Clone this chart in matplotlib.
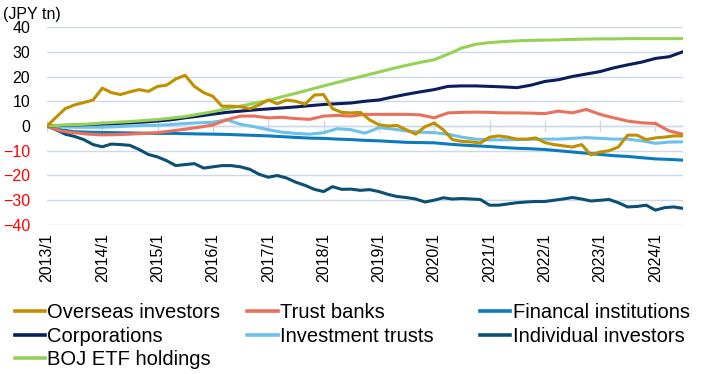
import matplotlib
matplotlib.use("Agg")
import matplotlib.pyplot as plt
import pandas as pd

plt.rcParams["font.family"] = ["Liberation Sans", "DejaVu Sans"]

# dates: noisy series read every 2 months, smooth ones every quarter
bimonthly = pd.date_range("2013-01-01", "2024-07-01", freq="2MS")
quarterly = pd.date_range("2013-01-01", "2024-07-01", freq="QS")
year_ticks = pd.date_range("2013-01-01", "2024-01-01", freq="YS")
tick_labels = [f"{d.year}/1" for d in year_ticks]

# cumulative net purchases, JPY tn (bimonthly)
overseas = [0, 3.5, 7, 8.5, 9.5, 10.5,
            15.3, 13.5, 12.7, 13.8, 14.7, 14,
            16, 16.5, 19, 20.5, 16, 13.5,
            12, 8, 8, 7.8, 7, 8.5,
            10.5, 9, 10.5, 10, 8.8, 12.5,
            12.7, 7, 5.5, 5.3, 5.5, 2.5,
            0.5, 0, 0.2, -1.5, -3.3, -0.3,
            1.2, -1.5, -5.5, -6.2, -6.4, -6.9,
            -4.5, -4, -4.5, -5.3, -5.3, -4.8,
            -6.7, -7.5, -8, -8.5, -7.5, -11.7,
            -10.5, -10, -8.5, -3.7, -3.7, -5.5,
            -4.8, -4.5, -4, -4]
individual = [0, -1.5, -3.3, -4.2, -5.5, -7.5,
              -8.4, -7.3, -7.5, -7.8, -9.5, -11.5,
              -12.5, -14, -16, -15.6, -15.2, -17,
              -16.5, -16, -16, -16.5, -17.5, -19.5,
              -20.7, -20, -21, -22.7, -24, -25.6,
              -26.5, -24.5, -25.6, -25.5, -26, -25.7,
              -26.5, -27.6, -28.5, -28.9, -29.5, -30.7,
              -30, -29, -29.5, -29.3, -29.5, -29.7,
              -32, -32, -31.5, -31, -30.7, -30.5,
              -30.5, -30, -29.5, -28.9, -29.5, -30.3,
              -30, -29.7, -31, -32.7, -32.5, -32,
              -34, -33, -32.7, -33.3]

# quarterly
trust_banks = [0, -2.0, -2.7, -3.3,
               -3.6, -3.5, -3.3, -3.0,
               -2.7, -2.0, -1.3, -0.5,
               0.4, 2.5, 4.0, 4.0,
               3.3, 3.5, 3.0, 2.7,
               4.0, 4.3, 4.0, 4.7,
               4.7, 4.7, 4.7, 4.5,
               3.3, 5.3, 5.5, 5.6,
               5.5, 5.3, 5.3, 5.2,
               5.0, 6.0, 5.3, 6.7,
               4.7, 3.3, 2.0, 1.3,
               1.0, -2.0, -3.3]
financial = [0, -1.5, -2.3, -2.5,
             -2.6, -2.7, -2.8, -2.9,
             -3.0, -3.0, -3.1, -3.2,
             -3.3, -3.4, -3.6, -3.8,
             -4.0, -4.3, -4.6, -4.9,
             -5.0, -5.3, -5.5, -5.8,
             -6.0, -6.3, -6.6, -6.7,
             -6.8, -7.3, -7.7, -8.0,
             -8.3, -8.7, -9.0, -9.2,
             -9.5, -10.0, -10.5, -11.0,
             -11.5, -12.0, -12.3, -12.8,
             -13.3, -13.5, -13.8]
corporations = [0, 0.2, 0.4, 0.6,
                0.8, 1.0, 1.3, 1.6,
                2.0, 2.5, 3.3, 4.0,
                4.8, 5.5, 6.0, 6.5,
                6.9, 7.3, 7.7, 8.2,
                8.7, 9.0, 9.3, 10.0,
                10.5, 11.7, 12.8, 13.8,
                14.7, 16.0, 16.2, 16.2,
                16.0, 15.8, 15.5, 16.5,
                18.0, 18.7, 20.0, 21.0,
                22.0, 23.5, 24.7, 25.8,
                27.3, 28.0, 30.0]
inv_trusts = [0, -0.3, -0.5, -0.5,
              -0.5, -0.3, 0, 0.2,
              0.3, 0.6, 1.0, 1.3,
              1.5, 2.5, 0.7, -0.3,
              -1.5, -2.5, -3.0, -3.3,
              -2.7, -1.1, -1.5, -2.9,
              -0.7, -1.2, -2.0, -2.5,
              -2.7, -3.3, -4.5, -5.3,
              -5.6, -5.6, -5.5, -5.4,
              -5.3, -5.3, -5.0, -4.7,
              -5.0, -5.3, -5.3, -6.0,
              -7.0, -6.5, -6.4]
boj_etf = [0, 0.3, 0.5, 0.8,
           1.2, 1.5, 1.8, 2.2,
           2.6, 3.2, 3.8, 4.8,
           5.8, 7.0, 8.0, 9.2,
           10.3, 11.8, 13.2, 14.7,
           16.2, 17.6, 19.0, 20.4,
           21.8, 23.2, 24.5, 25.7,
           26.8, 29.0, 31.5, 33.0,
           33.7, 34.1, 34.4, 34.6,
           34.7, 34.8, 35.0, 35.1,
           35.2, 35.2, 35.3, 35.3,
           35.3, 35.3, 35.3]

grid_color = "#CCD9EA"
lw = 2.2

fig = plt.figure(figsize=(7.05, 3.74), dpi=100)
ax = fig.add_axes([0.0667, 0.3984, 0.9021, 0.5294])

h_ind, = ax.plot(bimonthly, individual, color="#0B4F75", lw=lw, label="Individual investors")
h_fin, = ax.plot(quarterly, financial, color="#0A7BC0", lw=lw, label="Financal institutions")
h_inv, = ax.plot(quarterly, inv_trusts, color="#6CC2EC", lw=lw, label="Investment trusts")
h_tb, = ax.plot(quarterly, trust_banks, color="#E9705A", lw=lw, label="Trust banks")
h_corp, = ax.plot(quarterly, corporations, color="#0A1E5E", lw=lw, label="Corporations")
h_boj, = ax.plot(quarterly, boj_etf, color="#95D155", lw=lw, label="BOJ ETF holdings")
h_ovs, = ax.plot(bimonthly, overseas, color="#C09000", lw=lw, label="Overseas investors")

ax.set_xlim(bimonthly[0], bimonthly[-1])
ax.set_ylim(-40, 40)
ax.set_yticks(range(-40, 41, 10))
ax.set_xticks(year_ticks)
ax.set_xticklabels(tick_labels, rotation=90)

ax.grid(axis="y", color=grid_color, lw=1)
ax.set_axisbelow(True)
for s in ax.spines.values():
    s.set_visible(False)
ax.tick_params(axis="both", length=0, labelsize=11.5)
ax.tick_params(axis="y", pad=12)
ax.tick_params(axis="x", pad=6)
for lab in ax.get_yticklabels():
    if lab.get_text().startswith(("-", "\u2212")):
        lab.set_color("#FF0000")

# zero axis line with crossing tick marks
ax.axhline(0, color=grid_color, lw=1, zorder=0.5)
ax.plot(year_ticks, [0] * len(year_ticks), "|", ms=8, mew=1, color=grid_color, zorder=0.6)

fig.text(0.004, 0.962, "(JPY tn)", fontsize=11.5, va="center", ha="left")

# the reference legend has three equal-width columns, so one legend per column
columns = [[h_ovs, h_corp, h_boj], [h_tb, h_inv], [h_fin, h_ind]]
col_x = [0.021, 0.351, 0.681]
for hs, x in zip(columns, col_x):
    leg = fig.legend(handles=hs, labels=[h.get_label() for h in hs],
                     loc="upper left", bbox_to_anchor=(x, 0.19),
                     frameon=False, fontsize=14.5, handlelength=1.5,
                     handletextpad=0.12, labelspacing=0.23,
                     borderpad=0, borderaxespad=0)
    for line in leg.get_lines():
        line.set_linewidth(2.6)

fig.savefig("out.png", dpi=100)
plt.close(fig)
